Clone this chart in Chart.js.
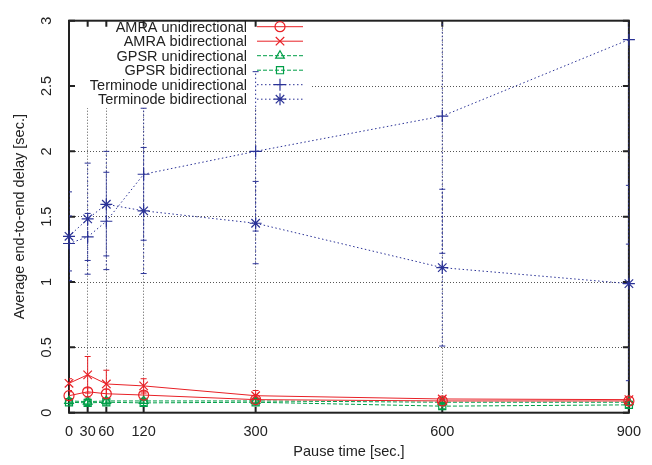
<!DOCTYPE html>
<html>
<head>
<meta charset="utf-8">
<script src="https://cdn.jsdelivr.net/npm/chart.js@4.4.0/dist/chart.umd.min.js"></script>
<style>
html, body { margin: 0; padding: 0; background: #fff; }
#wrap { width: 652px; height: 465px; }
</style>
</head>
<body>
<div id="wrap"><canvas id="myChart"></canvas></div>
<script>
// pause time (x) and tick values
var pauseTimes = [0, 30, 60, 120, 300, 600, 900];
var xTickValues = [0, 30, 60, 120, 300, 600, 900];
var yTickValues = [0, 0.5, 1, 1.5, 2, 2.5, 3];

var seriesNames = ['AMRA unidirectional', 'AMRA bidirectional', 'GPSR unidirectional',
    'GPSR bidirectional', 'Terminode unidirectional', 'Terminode bidirectional'];

// average delay [sec.] with error bar ends
var amraUni = [0.13, 0.16, 0.145, 0.135, 0.10, 0.09, 0.09];
var amraUniLow = [0.10, 0.12, 0.11, 0.11, 0.08, 0.07, 0.07];
var amraUniHigh = [0.16, 0.19, 0.18, 0.16, 0.12, 0.11, 0.11];

var amraBi = [0.225, 0.29, 0.22, 0.205, 0.13, 0.105, 0.10];
var amraBiLow = [0.17, 0.15, 0.11, 0.15, 0.10, 0.08, 0.07];
var amraBiHigh = [0.26, 0.43, 0.325, 0.26, 0.17, 0.12, 0.12];

var gpsrUni = [0.09, 0.085, 0.09, 0.09, 0.09, 0.08, 0.08];
var gpsrUniLow = [0.07, 0.065, 0.07, 0.07, 0.07, 0.06, 0.06];
var gpsrUniHigh = [0.11, 0.105, 0.11, 0.11, 0.11, 0.10, 0.10];

var gpsrBi = [0.08, 0.075, 0.08, 0.075, 0.08, 0.05, 0.06];
var gpsrBiLow = [0.06, 0.055, 0.06, 0.055, 0.06, 0.03, 0.04];
var gpsrBiHigh = [0.10, 0.095, 0.10, 0.095, 0.10, 0.07, 0.08];

var termUni = [1.295, 1.345, 1.465, 1.825, 2.0, 2.27, 2.855];
var termUniLow = [1.085, 1.165, 1.095, 1.32, 1.39, 1.22, 1.29];
var termUniHigh = [1.505, 1.525, 1.84, 2.33, 2.61, 3.32, 4.42];

var termBi = [1.35, 1.483, 1.595, 1.545, 1.45, 1.11, 0.988];
var termBiLow = [1.01, 1.06, 1.2, 1.065, 1.14, 0.51, 0.245];
var termBiHigh = [1.69, 1.91, 2.0, 2.03, 1.77, 1.71, 1.74];

var red = 'rgb(232, 32, 38)';
var green = 'rgb(0, 158, 72)';
var blue = 'rgb(42, 50, 150)';

function pts(ys) {
    return pauseTimes.map(function (x, i) { return { x: x, y: ys[i] }; });
}

function makeSet(i, ys, low, high, color, dash, style, radius) {
    return {
        label: seriesNames[i],
        data: pts(ys),
        errLow: low,
        errHigh: high,
        borderColor: color,
        borderWidth: 1,
        borderDash: dash,
        pointStyle: style,
        pointRadius: radius,
        pointHoverRadius: radius,
        pointBorderColor: color,
        pointBackgroundColor: 'rgba(0,0,0,0)',
        pointBorderWidth: 1.2,
        tension: 0,
        fill: false,
        clip: false
    };
}

var datasets = [
    makeSet(0, amraUni, amraUniLow, amraUniHigh, red, [], 'circle', 5),
    makeSet(1, amraBi, amraBiLow, amraBiHigh, red, [], 'crossRot', 6),
    makeSet(2, gpsrUni, gpsrUniLow, gpsrUniHigh, green, [4, 2], 'triangle', 5),
    makeSet(3, gpsrBi, gpsrBiLow, gpsrBiHigh, green, [4, 2], 'rect', 5),
    makeSet(4, termUni, termUniLow, termUniHigh, blue, [1.5, 2.5], 'cross', 6),
    makeSet(5, termBi, termBiLow, termBiHigh, blue, [1.5, 2.5], 'star', 6)
];

// legend box on top left, gnuplot style (text right aligned, sample after it)
var legendBox = { textRight: 247, lineFrom: 257, lineTo: 303, top: 26.7, step: 14.5, bottom: 106 };

function drawErrorBars(chart) {
    var ctx = chart.ctx;
    var xs = chart.scales.x, ys = chart.scales.y;
    var a = chart.chartArea;
    ctx.save();
    ctx.beginPath();
    ctx.rect(a.left, a.top, a.right - a.left, a.bottom - a.top);
    ctx.clip();
    chart.data.datasets.forEach(function (ds) {
        ctx.strokeStyle = ds.borderColor;
        ctx.lineWidth = 1;
        pauseTimes.forEach(function (t, i) {
            var px = xs.getPixelForValue(t);
            var lo = ys.getPixelForValue(ds.errLow[i]);
            var hi = ys.getPixelForValue(ds.errHigh[i]);
            ctx.setLineDash(ds.borderDash);
            ctx.beginPath();
            ctx.moveTo(px, lo);
            ctx.lineTo(px, hi);
            ctx.stroke();
            ctx.setLineDash([]);
            ctx.beginPath();
            ctx.moveTo(px - 3, lo); ctx.lineTo(px + 3, lo);
            ctx.moveTo(px - 3, hi); ctx.lineTo(px + 3, hi);
            ctx.stroke();
        });
    });
    ctx.restore();
}

var gnuPlotExtras = {
    id: 'gnuPlotExtras',
    beforeDatasetsDraw: function (chart) {
        var ctx = chart.ctx;
        var a = chart.chartArea;
        var xs = chart.scales.x, ys = chart.scales.y;

        // white key area hides the grid behind it
        ctx.save();
        ctx.fillStyle = '#fff';
        ctx.fillRect(a.left + 2, a.top + 2, 310 - a.left, legendBox.bottom - a.top);
        ctx.restore();

        // border and inward ticks
        ctx.save();
        ctx.strokeStyle = '#222';
        ctx.lineWidth = 2;
        ctx.strokeRect(a.left, a.top, a.right - a.left, a.bottom - a.top);
        ctx.beginPath();
        xTickValues.forEach(function (v) {
            var px = xs.getPixelForValue(v);
            ctx.moveTo(px, a.bottom); ctx.lineTo(px, a.bottom - 6);
            ctx.moveTo(px, a.top); ctx.lineTo(px, a.top + 6);
        });
        yTickValues.forEach(function (v) {
            var py = ys.getPixelForValue(v);
            ctx.moveTo(a.left, py); ctx.lineTo(a.left + 6, py);
            ctx.moveTo(a.right, py); ctx.lineTo(a.right - 6, py);
        });
        ctx.stroke();
        ctx.restore();

        // key entries
        ctx.save();
        ctx.font = '14.5px "Liberation Sans", Arial, sans-serif';
        ctx.textAlign = 'right';
        ctx.textBaseline = 'middle';
        chart.data.datasets.forEach(function (ds, i) {
            var y = legendBox.top + i * legendBox.step;
            ctx.fillStyle = '#222';
            ctx.fillText(ds.label, legendBox.textRight, y + 1);
            ctx.strokeStyle = ds.borderColor;
            ctx.lineWidth = 1;
            ctx.setLineDash(ds.borderDash);
            ctx.beginPath();
            ctx.moveTo(legendBox.lineFrom, y);
            ctx.lineTo(legendBox.lineTo, y);
            ctx.stroke();
            ctx.setLineDash([]);
            ctx.lineWidth = 1.2;
            ctx.fillStyle = 'rgba(0,0,0,0)';
            Chart.helpers.drawPoint(ctx, {
                pointStyle: ds.pointStyle,
                radius: ds.pointRadius,
                borderWidth: 1.2,
                rotation: 0
            }, (legendBox.lineFrom + legendBox.lineTo) / 2, y);
        });
        ctx.restore();

        drawErrorBars(chart);
    }
};

var fontFamily = '"Liberation Sans", Arial, sans-serif';

var ctxLine = document.getElementById('myChart').getContext('2d');
var myChart = new Chart(ctxLine, {
    type: 'line',
    data: { datasets: datasets },
    plugins: [gnuPlotExtras],
    options: {
        responsive: true,
        maintainAspectRatio: false,
        animation: false,
        events: [],
        layout: { padding: { left: 7, right: 13, top: 13, bottom: 0 } },
        scales: {
            x: {
                type: 'linear',
                min: 0,
                max: 900,
                afterBuildTicks: function (scale) {
                    scale.ticks = xTickValues.map(function (v) { return { value: v }; });
                },
                afterFit: function (scale) { scale.height = 52.3; },
                grid: { color: '#555', lineWidth: 1, drawTicks: false },
                border: { display: false, dash: [1, 2] },
                ticks: {
                    autoSkip: false,
                    maxRotation: 0,
                    padding: 11,
                    color: '#222',
                    font: { family: fontFamily, size: 14.5 },
                    callback: function (v) { return String(v); }
                },
                title: {
                    display: true,
                    text: 'Pause time [sec.]',
                    color: '#222',
                    padding: { top: 0, bottom: 4 },
                    font: { family: fontFamily, size: 14.5 }
                }
            },
            y: {
                min: 0,
                max: 3,
                afterBuildTicks: function (scale) {
                    scale.ticks = yTickValues.map(function (v) { return { value: v }; });
                },
                afterFit: function (scale) { scale.width = 62; },
                grid: { color: '#555', lineWidth: 1, drawTicks: false },
                border: { display: false, dash: [1, 2] },
                ticks: {
                    minRotation: 90,
                    maxRotation: 90,
                    crossAlign: 'center',
                    padding: 12,
                    color: '#222',
                    font: { family: fontFamily, size: 14.5 },
                    callback: function (v) { return String(v); }
                },
                title: {
                    display: true,
                    text: 'Average end-to-end delay [sec.]',
                    color: '#222',
                    padding: { top: 4, bottom: 0 },
                    font: { family: fontFamily, size: 14.5 }
                }
            }
        },
        plugins: {
            legend: { display: false },
            tooltip: { enabled: false }
        }
    }
});
</script>
</body>
</html>
